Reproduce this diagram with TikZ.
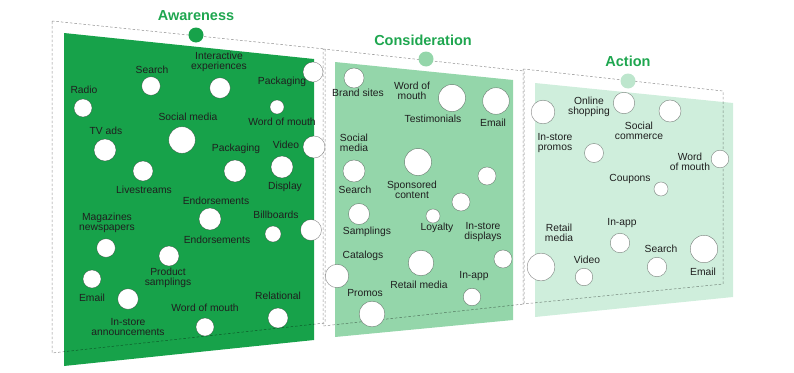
\documentclass[tikz,border=0pt]{standalone}
\usepackage{fontspec}
\setmainfont{Liberation Sans}
\definecolor{gA}{HTML}{17A24A}
\definecolor{gB}{HTML}{94D6AA}
\definecolor{gC}{HTML}{CFEEDC}
\definecolor{dotC}{HTML}{BDE6CD}
\definecolor{ttl}{HTML}{1EA64F}
\begin{document}
\begin{tikzpicture}[x=1pt,y=-1pt,
  dot/.style={circle, fill=white, draw=black, draw opacity=0.45, line width=0.45pt, inner sep=0pt, minimum size={2*#1}},
  lbl/.style={font=\fontsize{10.3}{10.2}\selectfont, text=black!88, inner sep=0pt, align=center},
  ttlstyle/.style={font=\fontsize{14.5}{16}\selectfont\bfseries, text=ttl, inner sep=0pt},
  outline/.style={draw=black, draw opacity=0.45, line width=0.5pt, dash pattern=on 2.5pt off 2pt},
  stagedot/.style={circle, inner sep=0pt, minimum size=15pt}]
\useasboundingbox (0,0) rectangle (794,372);
% panels
\fill[gA] (64,33) -- (314,59) -- (314,340) -- (64,366) -- cycle;
\fill[gB] (335,62) -- (513,80) -- (513,320) -- (335,337) -- cycle;
\fill[gC] (535,83) -- (733,103) -- (733,297) -- (535,317) -- cycle;
% dashed outlines
\draw[outline] (52,21) -- (325,49) -- (325,323) -- (52,353) -- cycle;
\draw[outline] (323,49) -- (524,71) -- (524,304) -- (323,326) -- cycle;
\draw[outline] (523,69) -- (723,91) -- (723,284) -- (523,304) -- cycle;
% stage dots and titles
\node[stagedot, fill=gA] (sA) at (196,35) {};
\node[stagedot, fill=gB] (sB) at (426,59) {};
\node[stagedot, fill=dotC] (sC) at (628,81) {};
\node[ttlstyle] (tA) at (196,16) {Awareness};
\node[ttlstyle] (tB) at (423,40) {Consideration};
\node[ttlstyle] (tC) at (628,61) {Action};
% Awareness circles
\node[dot=9]    (a1)  at (83,108) {};
\node[dot=9.3]  (a2)  at (151,86) {};
\node[dot=10.3] (a3)  at (220,88) {};
\node[dot=10]   (a4)  at (313,72) {};
\node[dot=7]    (a5)  at (277,107) {};
\node[dot=13.3] (a6)  at (182,140) {};
\node[dot=11]   (a7)  at (105,150) {};
\node[dot=11]   (a8)  at (235,171) {};
\node[dot=11]   (a9)  at (282,167) {};
\node[dot=11]   (a10) at (314,147) {};
\node[dot=10]   (a11) at (143,171) {};
\node[dot=11]   (a12) at (210,219) {};
\node[dot=8]    (a13) at (273,234) {};
\node[dot=10.5] (a14) at (311,230) {};
\node[dot=9.3]  (a15) at (106,248) {};
\node[dot=10]   (a16) at (169,256) {};
\node[dot=9]    (a17) at (92,279) {};
\node[dot=10.3] (a18) at (128,299) {};
\node[dot=9]    (a19) at (205,327) {};
\node[dot=10]   (a20) at (278,318) {};
% Awareness labels
\node[lbl] (la1)  at (84,90) {Radio};
\node[lbl] (la2)  at (152,70) {Search};
\node[lbl] (la3)  at (219,62) {Interactive\\experiences};
\node[lbl] (la4)  at (282,82) {Packaging};
\node[lbl] (la5)  at (282,122) {Word of mouth};
\node[lbl] (la6)  at (188,117) {Social media};
\node[lbl] (la7)  at (106,131) {TV ads};
\node[lbl] (la8)  at (236,149) {Packaging};
\node[lbl] (la9)  at (286,145) {Video};
\node[lbl] (la10) at (285,187) {Display};
\node[lbl] (la11) at (144,190) {Livestreams};
\node[lbl] (la12) at (216,201) {Endorsements};
\node[lbl] (la13) at (276,215) {Billboards};
\node[lbl] (la14) at (217,240) {Endorsements};
\node[lbl] (la15) at (107,223) {Magazines\\newspapers};
\node[lbl] (la16) at (168,278) {Product\\samplings};
\node[lbl] (la17) at (92,298) {Email};
\node[lbl] (la18) at (128,327) {In-store\\announcements};
\node[lbl] (la19) at (205,308) {Word of mouth};
\node[lbl] (la20) at (278,296) {Relational};
% Consideration circles
\node[dot=10]   (b1)  at (354,78) {};
\node[dot=13.5] (b2)  at (452,98) {};
\node[dot=13.3] (b3)  at (496,101) {};
\node[dot=11]   (b4)  at (354,171) {};
\node[dot=13.5] (b5)  at (418,162) {};
\node[dot=9]    (b6)  at (487,176) {};
\node[dot=9]    (b7)  at (461,202) {};
\node[dot=10.5] (b8)  at (359,214) {};
\node[dot=7]    (b9)  at (433,216) {};
\node[dot=9]    (b10) at (503,259) {};
\node[dot=11.7] (b11) at (337,276) {};
\node[dot=12.7] (b12) at (421,263) {};
\node[dot=8.7]  (b13) at (472,297) {};
\node[dot=12.8] (b14) at (372,314) {};
% Consideration labels
\node[lbl] (lb1)  at (358,93) {Brand sites};
\node[lbl] (lb2)  at (412,91) {Word of\\mouth};
\node[lbl] (lb3)  at (433,119) {Testimonials};
\node[lbl] (lb4)  at (493,123) {Email};
\node[lbl] (lb5)  at (354,143) {Social\\media};
\node[lbl] (lb6)  at (355,190) {Search};
\node[lbl] (lb7)  at (412,190) {Sponsored\\content};
\node[lbl] (lb8)  at (367,232) {Samplings};
\node[lbl] (lb9)  at (437,228) {Loyalty};
\node[lbl] (lb10) at (483,232) {In-store\\displays};
\node[lbl] (lb11) at (363,256) {Catalogs};
\node[lbl] (lb12) at (419,285) {Retail media};
\node[lbl] (lb13) at (474,276) {In-app};
\node[lbl] (lb14) at (365,293) {Promos};
% Action circles
\node[dot=11.8] (c1)  at (543,112) {};
\node[dot=10.7] (c2)  at (624,103) {};
\node[dot=11]   (c3)  at (670,111) {};
\node[dot=9.5]  (c4)  at (594,153) {};
\node[dot=8.8]  (c5)  at (720,159) {};
\node[dot=7]    (c6)  at (661,189) {};
\node[dot=13.8] (c7)  at (541,267) {};
\node[dot=9.7]  (c8)  at (620,243) {};
\node[dot=8.7]  (c9)  at (584,277) {};
\node[dot=9.7]  (c10) at (657,267) {};
\node[dot=13.7] (c11) at (704,249) {};
% Action labels
\node[lbl] (lc1)  at (589,107) {Online\\shopping};
\node[lbl] (lc2)  at (639,131) {Social\\commerce};
\node[lbl] (lc3)  at (555,143) {In-store\\promos};
\node[lbl] (lc4)  at (690,162) {Word\\of mouth};
\node[lbl] (lc5)  at (630,179) {Coupons};
\node[lbl] (lc6)  at (559,233) {Retail\\media};
\node[lbl] (lc7)  at (622,223) {In-app};
\node[lbl] (lc8)  at (587,260) {Video};
\node[lbl] (lc9)  at (661,249) {Search};
\node[lbl] (lc10) at (703,272) {Email};
\end{tikzpicture}
\end{document}
